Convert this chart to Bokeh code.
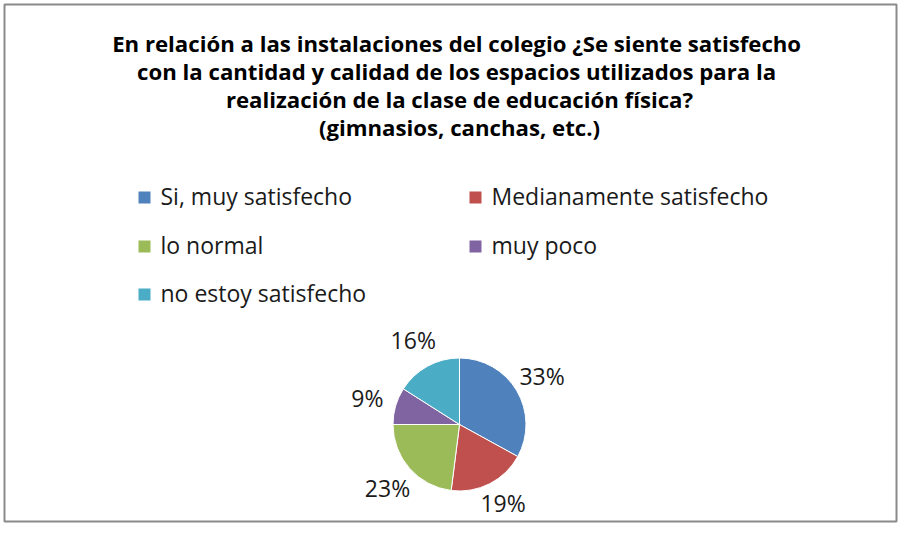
import math
from bokeh.plotting import figure
from bokeh.models import ColumnDataSource
from bokeh.core.properties import value
from bokeh.embed import file_html
from bokeh.resources import INLINE

# ---- data ----
title_lines = [
    "En relación a las instalaciones  del colegio ¿Se siente satisfecho",
    "con la cantidad y calidad  de los espacios utilizados para la",
    "realización de la clase de educación física?",
    "(gimnasios, canchas, etc.)",
]
categories = ["Si, muy satisfecho", "Medianamente satisfecho", "lo normal",
              "muy poco", "no estoy satisfecho"]
percentages = [33, 19, 23, 9, 16]
colors = ["#4F81BD", "#C0504D", "#9BBB59", "#8064A2", "#4BACC6"]

# ---- layout ----
W, H = 898, 523
FONT = "Open Sans"
TITLE_FS = "22.2px"
FS = "23px"


def px(X):  # reference x -> data x
    return X


def py(Y):  # reference y -> data y
    return H - Y


p = figure(width=W, height=H, x_range=(0, W), y_range=(0, H),
           output_backend="svg", toolbar_location=None, min_border=0)
p.axis.visible = False
p.grid.visible = False
p.outline_line_color = None
p.background_fill_color = "white"

# outer chart border
p.quad(left=[4], right=[W - 2], bottom=[2], top=[H - 4],
       fill_color=None, line_color="#8a8a8a", line_width=2)

# title
title_src = ColumnDataSource(dict(
    x=[px(459)] * len(title_lines),
    y=[py(43 + 28 * i) for i in range(len(title_lines))],
    text=title_lines))
p.text(x="x", y="y", text="text", source=title_src,
       text_font=value(FONT), text_font_style="bold", text_font_size=TITLE_FS,
       text_align="center", text_baseline="middle", text_color="#000000")

# legend (2 columns)
col_sq_x = [144, 475]
row_y = [197, 246, 294]
lx, ly, tx, ty = [], [], [], []
for i, c in enumerate(categories):
    col, row = i % 2, i // 2
    lx.append(px(col_sq_x[col]))
    ly.append(py(row_y[row]))
    tx.append(px(col_sq_x[col] + 16))
    ty.append(py(row_y[row] - 1.5))
leg_src = ColumnDataSource(dict(x=lx, y=ly, tx=tx, ty=ty, text=categories,
                                color=colors))
p.rect(x="x", y="y", width=12, height=12, width_units="screen",
       height_units="screen", fill_color="color", line_color=None, source=leg_src)
p.text(x="tx", y="ty", text="text", source=leg_src,
       text_font=value(FONT), text_font_size=FS,
       text_align="left", text_baseline="middle", text_color="#1a1a1a")

# pie
cx, cy, R = px(459), py(424), 66.5
LABEL_R = 96
LABEL_MIN_Y = py(502)  # keep labels inside the chart area
total = float(sum(percentages))
starts, ends, lab_x, lab_y, lab_t = [], [], [], [], []
cum = 0.0
for v in percentages:
    a0 = cum / total
    a1 = (cum + v) / total
    starts.append(math.pi / 2 - 2 * math.pi * a0)
    ends.append(math.pi / 2 - 2 * math.pi * a1)
    mid = math.pi / 2 - 2 * math.pi * (a0 + a1) / 2
    lab_x.append(cx + LABEL_R * math.cos(mid))
    lab_y.append(max(cy + LABEL_R * math.sin(mid), LABEL_MIN_Y))
    lab_t.append(f"{v}%")
    cum += v
pie_src = ColumnDataSource(dict(start=starts, end=ends, color=colors))
p.wedge(x=cx, y=cy, radius=R, radius_units="screen",
        start_angle="start", end_angle="end", direction="clock",
        fill_color="color", line_color="white", line_width=1, source=pie_src)

lab_src = ColumnDataSource(dict(x=lab_x, y=lab_y, text=lab_t))
p.text(x="x", y="y", text="text", source=lab_src,
       text_font=value(FONT), text_font_size=FS,
       text_align="center", text_baseline="middle", text_color="#1a1a1a")

open("out.html", "w").write(file_html(p, INLINE))
